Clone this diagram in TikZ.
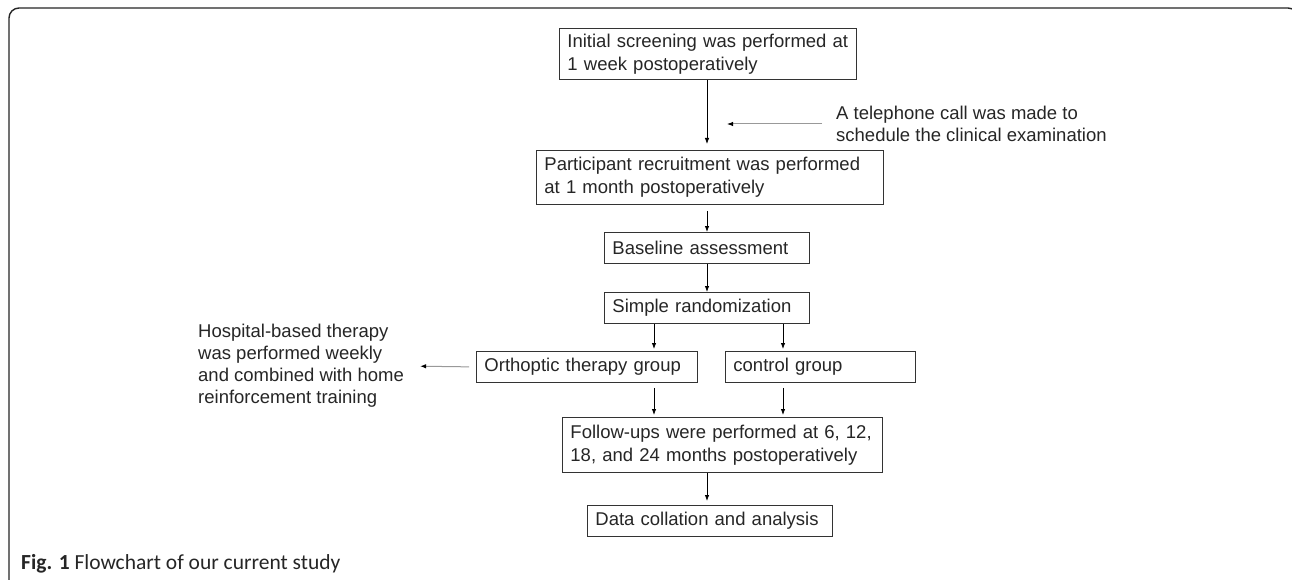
\documentclass[tikz,border=0pt]{standalone}
\usepackage{fontspec}
\setmainfont{Liberation Sans}
\newfontfamily\capfont{Carlito}
\usetikzlibrary{arrows.meta}
\begin{document}
\begin{tikzpicture}[x=1pt,y=-1pt,
  boxstyle/.style={draw=black!80, line width=0.9pt, inner xsep=8pt, inner ysep=0pt, anchor=north west, align=left, font=\fontsize{18.5}{23}\selectfont, text=black!85},
  note/.style={inner sep=0pt, align=left, font=\fontsize{18.5}{22}\selectfont, text=black!85},
  arr/.style={line width=0.8pt, draw=black, -{Latex[length=6pt,width=4.5pt]}},
  garr/.style={line width=1pt, draw=black!40, -{Latex[length=6pt,width=4.5pt,black]}}
]
\useasboundingbox (0,0) rectangle (1292,580);
\fill[white] (0,0) rectangle (1292,580);
\draw[line width=1.4pt, draw=black!85, rounded corners=10pt] (9,620) -- (9,8) -- (1298,8) -- (1298,620);

\node[boxstyle, text width=281pt, minimum height=51pt] (b1) at (559,28) {Initial screening was performed at\\1 week postoperatively};
\node[boxstyle, text width=331pt, minimum height=54pt] (b2) at (536,150) {Participant recruitment was performed\\at 1 month postoperatively};
\node[boxstyle, text width=189pt, minimum height=31pt] (b3) at (604,232) {Baseline assessment};
\node[boxstyle, text width=189pt, minimum height=31pt] (b4) at (604,292) {Simple randomization};
\node[boxstyle, text width=205pt, minimum height=31pt] (b5) at (476,351) {Orthoptic therapy group};
\node[boxstyle, text width=174pt, minimum height=31pt] (b6) at (725,351) {control group};
\node[boxstyle, text width=304pt, minimum height=55pt] (b7) at (562,417) {Follow-ups were performed at 6, 12,\\18, and 24 months postoperatively};
\node[boxstyle, text width=229pt, minimum height=31pt] (b8) at (587,505) {Data collation and analysis};

\node[note, anchor=west] (tel) at (836,124) {A telephone call was made to\\schedule the clinical examination};
\node[note, anchor=west] (hosp) at (198,366) {Hospital-based therapy\\was performed weekly\\and combined with home\\reinforcement training};

\coordinate (axis) at (707,0);
\coordinate (colL) at (654,0);
\coordinate (colR) at (783,0);
\coordinate (telend) at (727,124);

\draw[arr, shorten >=6pt] (b1.south -| axis) -- (b2.north -| axis);
\draw[arr, shorten <=6pt] (b2.south -| axis) -- (b3.north -| axis);
\draw[arr] (b3.south -| axis) -- (b4.north -| axis);
\draw[arr, shorten >=2pt] (b4.south -| colL) -- (b5.north -| colL);
\draw[arr, shorten >=2pt] (b4.south -| colR) -- (b6.north -| colR);
\draw[arr, shorten <=5pt, shorten >=2pt] (b5.south -| colL) -- (b7.north -| colL);
\draw[arr, shorten <=5pt, shorten >=2pt] (b6.south -| colR) -- (b7.north -| colR);
\draw[arr, shorten >=4pt] (b7.south -| axis) -- (b8.north -| axis);
\draw[garr, shorten <=14pt] (tel.west) -- (telend);
\draw[garr, shorten <=7pt, shorten >=16pt] (b5.west) -- (hosp.east);

\node[anchor=base west, inner sep=0pt, font=\capfont\fontsize{21.5}{24}\selectfont, text=black!85] (cap) at (21,569) {\textbf{Fig. 1} Flowchart of our current study};
\end{tikzpicture}
\end{document}
